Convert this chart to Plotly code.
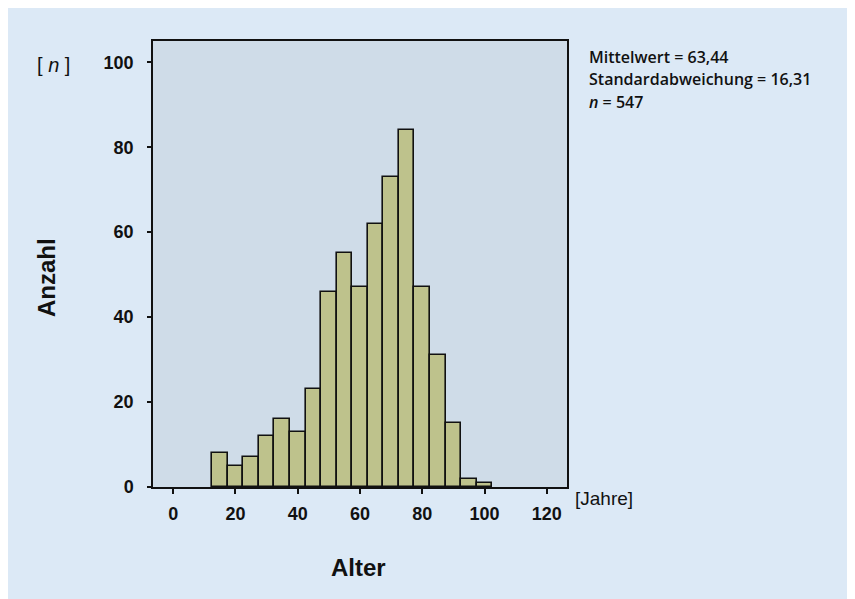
import plotly.graph_objects as go

# Data: age histogram (5-year bins)
bin_centers = [15, 20, 25, 30, 35, 40, 45, 50, 55, 60, 65, 70, 75, 80, 85, 90, 95, 100]
counts = [8, 5, 7, 12, 16, 13, 23, 46, 55, 47, 62, 73, 84, 47, 31, 15, 2, 1]
bin_width = 5
x_ticks = [0, 20, 40, 60, 80, 100, 120]
y_ticks = [0, 20, 40, 60, 80, 100]
stats_lines = ["Mittelwert = 63,44", "Standardabweichung = 16,31", "<i>n</i> = 547"]

PAPER = "#DCE9F6"
PLOTBG = "#CFDCE8"
BAR = "#BEC28C"

# page has an 8px body margin; figure sized accordingly
OFF = 8
W, H = 855 - OFF, 599 - OFF
L, T = 153 - OFF, 41 - OFF
PW, PH = 567 - 153, 487 - 41
R = W - L - PW
B = H - T - PH


def px(xp):
    return (xp - OFF - L) / PW


def py(yp):
    return (T + PH - (yp - OFF)) / PH


fig = go.Figure(go.Bar(
    x=bin_centers, y=counts, width=[bin_width] * len(bin_centers),
    marker=dict(color=BAR, line=dict(color="#111111", width=1.6)),
    hoverinfo="x+y",
))

axis_font = dict(family="Liberation Sans, Arial", size=18, color="#111111", weight="bold")

fig.update_layout(
    width=W, height=H,
    paper_bgcolor=PAPER, plot_bgcolor=PLOTBG,
    margin=dict(l=L, r=R, t=T, b=B),
    showlegend=False,
    bargap=0,
    xaxis=dict(
        range=[-6.5, 126.5], tickvals=x_ticks, ticks="outside", ticklen=5, tickwidth=1.5,
        tickcolor="#111111", showgrid=False, zeroline=False,
        showline=True, linecolor="#111111", linewidth=1.5, mirror=True,
        tickfont=axis_font, ticklabelstandoff=5,
    ),
    yaxis=dict(
        range=[0, 105], tickvals=y_ticks, ticks="outside", ticklen=4, tickwidth=1.5,
        tickcolor="#111111", showgrid=False, zeroline=False,
        showline=True, linecolor="#111111", linewidth=1.5, mirror=True,
        tickfont=axis_font, ticklabelstandoff=10,
    ),
)

big_font = dict(family="Liberation Sans, Arial", size=24, color="#111111", weight="bold")


def note(text, xp, yp, font, xanchor="center", angle=0):
    fig.add_annotation(text=text, x=px(xp), y=py(yp), xref="paper", yref="paper",
                       xanchor=xanchor, yanchor="middle", align="left",
                       showarrow=False, textangle=angle, font=font)


note("Anzahl", 46, 278, big_font, angle=-90)
note("Alter", 358, 567, big_font)
note("[ <i>n</i> ]", 53, 65, dict(family="Liberation Sans, Arial", size=20, color="#111111"))
note("[Jahre]", 573, 498, dict(family="Liberation Sans, Arial", size=19, color="#111111"),
     xanchor="left")
for i, line in enumerate(stats_lines):
    note(line, 587, 57 + 22.5 * i,
         dict(family="Open Sans", size=16, color="#111111", weight=600), xanchor="left")

fig.write_html("out.html")
